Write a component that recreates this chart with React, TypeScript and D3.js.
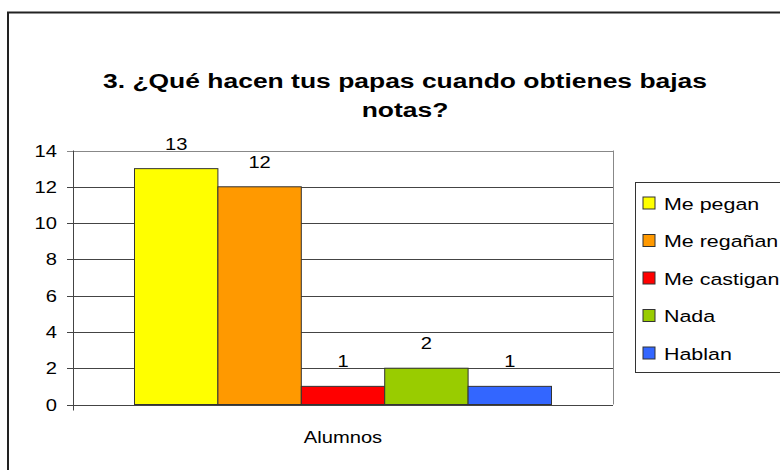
import React from "react";
import * as d3 from "d3";

const categories = ["Alumnos"];
const seriesNames = ["Me pegan", "Me regañan", "Me castigan", "Nada", "Hablan"];
const seriesValues = [13, 12, 1, 2, 1];
const seriesColors = ["#FFFF00", "#FF9900", "#FF0000", "#99CC00", "#3366FF"];
const yTicks = [0, 2, 4, 6, 8, 10, 12, 14];
const titleLines = ["3. ¿Qué hacen tus papas cuando obtienes bajas", "notas?"];

const W = 780;
const H = 470;
const plot = { left: 73, right: 613, top: 150.5, bottom: 404.5 };
const font = "'Liberation Sans', Arial, sans-serif";
const SX = 1.26;

function SText(props: {
  x: number;
  y: number;
  anchor?: "start" | "middle" | "end";
  size: number;
  bold?: boolean;
  children: React.ReactNode;
}) {
  return (
    <text
      transform={`translate(${props.x},${props.y}) scale(${SX},1)`}
      textAnchor={props.anchor || "start"}
      fontSize={props.size}
      fontWeight={props.bold ? "bold" : "normal"}
      fill="#000"
    >
      {props.children}
    </text>
  );
}

export default function App() {
  const y = d3.scaleLinear().domain([0, 14]).range([plot.bottom, plot.top]);
  const xCat = d3.scaleBand().domain(categories).range([plot.left, plot.right]).paddingInner(0).paddingOuter(0);
  const catStart = xCat(categories[0])!;
  const bw = xCat.bandwidth();
  const groupPad = 61.5;
  const xSeries = d3
    .scaleBand()
    .domain(seriesNames)
    .range([catStart + groupPad, catStart + bw - groupPad])
    .padding(0);

  return (
    <svg
      width={W}
      height={H}
      style={{ position: "absolute", left: 0, top: 0, background: "#fff" }}
      fontFamily={font}
    >
      <rect x={0} y={0} width={W} height={H} fill="#fff" />
      {/* outer border */}
      <rect x={8} y={12.5} width={800} height={500} fill="none" stroke="#222" strokeWidth={2} />
      {/* title */}
      {titleLines.map((t, i) => (
        <SText key={i} x={405} y={88 + i * 29} anchor="middle" size={21} bold>
          {t}
        </SText>
      ))}
      {/* gridlines */}
      {yTicks.map((t) => (
        <line
          key={"g" + t}
          x1={plot.left - 6}
          x2={plot.right}
          y1={Math.round(y(t)) + 0.5}
          y2={Math.round(y(t)) + 0.5}
          stroke={t === 14 ? "#888" : "#444"}
          strokeWidth={1}
        />
      ))}
      {/* right border of plot */}
      <line x1={plot.right + 0.5} x2={plot.right + 0.5} y1={plot.top} y2={plot.bottom} stroke="#888" />
      {/* y axis */}
      <line x1={plot.left + 0.5} x2={plot.left + 0.5} y1={plot.top} y2={plot.bottom + 6} stroke="#444" />
      {yTicks.map((t) => (
        <SText key={"t" + t} x={57} y={y(t) + 6} anchor="end" size={16}>
          {t}
        </SText>
      ))}
      {/* bars */}
      {seriesNames.map((s, i) => (
        <rect
          key={s}
          x={xSeries(s)!}
          y={y(seriesValues[i])}
          width={xSeries.bandwidth()}
          height={y(0) - y(seriesValues[i])}
          fill={seriesColors[i]}
          stroke="#333"
          strokeWidth={1}
        />
      ))}
      {/* bottom axis */}
      <line x1={plot.left - 6} x2={plot.right} y1={Math.round(y(0)) + 0.5} y2={Math.round(y(0)) + 0.5} stroke="#444" />
      {/* data labels */}
      {seriesNames.map((s, i) => (
        <SText
          key={"l" + s}
          x={xSeries(s)! + xSeries.bandwidth() / 2}
          y={y(seriesValues[i]) - 19}
          anchor="middle"
          size={16}
        >
          {seriesValues[i]}
        </SText>
      ))}
      {/* category label */}
      {categories.map((c) => (
        <SText key={c} x={catStart + bw / 2} y={443} anchor="middle" size={16}>
          {c}
        </SText>
      ))}
      {/* legend */}
      <rect x={635.5} y={182.5} width={160} height={190} fill="#fff" stroke="#333" strokeWidth={1} />
      {seriesNames.map((s, i) => (
        <g key={"lg" + s} transform={`translate(643, ${197 + i * 37.5})`}>
          <rect x={0} y={0} width={12} height={12} fill={seriesColors[i]} stroke="#333" strokeWidth={1} />
          <SText x={21} y={12.5} size={17}>
            {s}
          </SText>
        </g>
      ))}
    </svg>
  );
}
